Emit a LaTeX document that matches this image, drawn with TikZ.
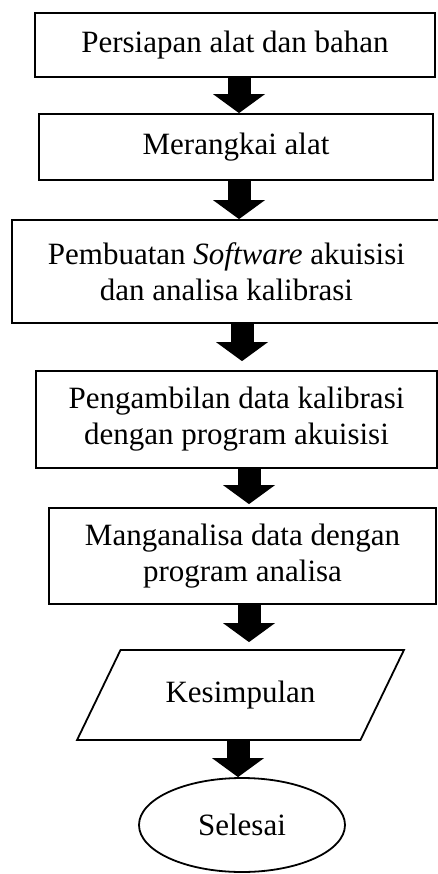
\documentclass[tikz,border=0pt]{standalone}
\usepackage{fontspec}
\setmainfont{Liberation Serif}
\usetikzlibrary{positioning,arrows.meta,shapes.geometric}

\begin{document}
\begin{tikzpicture}[
  x=1pt, y=-1pt,
  box/.style={rectangle, draw, line width=1.8pt, align=center, inner sep=0pt, font=\fontsize{31}{36}\selectfont},
  fat/.style={line width=23pt, -{Triangle[length=19pt, width=52pt, line width=0pt]}}
]
\useasboundingbox (0,0) rectangle (438,874);

% Steps
\node[box, minimum width=400pt, minimum height=64pt] (prep) at (235,45) {Persiapan alat dan bahan};
\node[box, minimum width=394pt, minimum height=66pt] (rakit) at (236,147) {Merangkai alat};
\node[box, minimum width=429pt, minimum height=103pt] (soft) at (226.5,271.5) {Pembuatan \textit{Software} akuisisi\\dan analisa kalibrasi};
\node[box, minimum width=401pt, minimum height=97pt] (ambil) at (236.5,419.5) {Pengambilan data kalibrasi\\dengan program akuisisi};
\node[box, minimum width=387pt, minimum height=96pt] (analisa) at (242.5,556) {Manganalisa data dengan\\program analisa};

% Output and end
\node[box, trapezium, trapezium left angle=46, trapezium right angle=134, trapezium stretches=true, minimum width=327pt, minimum height=90pt] (simpul) at (240.5,695) {Kesimpulan};
\node[box, ellipse, minimum width=206pt, minimum height=94pt] (selesai) at (242,825) {Selesai};

% Arrows
\draw[fat] ([xshift=4pt]prep.south) -- ([xshift=4pt]prep.south |- rakit.north);
\draw[fat] ([xshift=3pt]rakit.south) -- ([xshift=3pt]rakit.south |- soft.north);
\draw[fat, shorten >=9pt] ([xshift=15.5pt]soft.south) -- ([xshift=15.5pt]soft.south |- ambil.north);
\draw[fat, shorten >=3pt] ([xshift=12.5pt]ambil.south) -- ([xshift=12.5pt]ambil.south |- analisa.north);
\draw[fat, shorten >=7pt] ([xshift=6.5pt]analisa.south) -- ([xshift=6.5pt]analisa.south |- simpul.north);
\draw[fat] ([xshift=-2.5pt]simpul.south) -- ([xshift=-2.5pt]simpul.south |- selesai.north);

\end{tikzpicture}
\end{document}
